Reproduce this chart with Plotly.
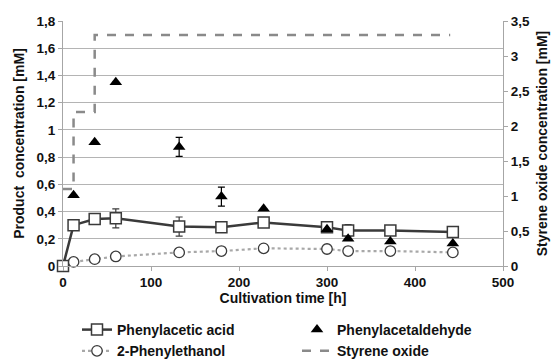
import plotly.graph_objects as go

time_h = [0, 12, 36, 60, 132, 180, 228, 300, 324, 372, 443]
phenylacetic_acid = [0.0, 0.30, 0.345, 0.35, 0.29, 0.285, 0.32, 0.285, 0.26, 0.26, 0.25]
paa_err = [0, 0, 0, 0.07, 0.07, 0, 0, 0, 0.045, 0, 0]
phenylethanol = [0.0, 0.03, 0.05, 0.07, 0.10, 0.11, 0.13, 0.125, 0.11, 0.11, 0.10]
ald_time = [12, 36, 60, 132, 180, 228, 300, 324, 372, 443]
phenylacetaldehyde = [0.52, 0.91, 1.35, 0.875, 0.51, 0.42, 0.27, 0.20, 0.18, 0.165]
ald_err = [0, 0, 0, 0.07, 0.07, 0, 0, 0, 0, 0]
so_time = [0, 12, 36, 440]
styrene_oxide = [1.1, 2.2, 3.3, 3.3]

FONT = "Liberation Sans"
dark = "#3a3a3a"

fig = go.Figure()
fig.add_trace(go.Scatter(
    x=so_time, y=styrene_oxide, yaxis="y2", name="Styrene oxide",
    mode="lines", line=dict(color="#8a8a8a", width=2.5, dash="dash", shape="hv"),
    legend="legend2", legendrank=2))
fig.add_trace(go.Scatter(
    x=time_h, y=phenylethanol, name="2-Phenylethanol", mode="lines+markers",
    line=dict(color="#a8a8a8", width=2.2, dash="dot"),
    marker=dict(symbol="circle", size=10.5, color="white", line=dict(color=dark, width=1.3)),
    cliponaxis=False, legend="legend", legendrank=2))
fig.add_trace(go.Scatter(
    x=time_h, y=phenylacetic_acid, name="Phenylacetic acid", mode="lines+markers",
    line=dict(color=dark, width=2.5),
    marker=dict(symbol="square", size=11, color="white", line=dict(color=dark, width=1.5)),
    error_y=dict(type="data", array=paa_err, color=dark, thickness=1.2, width=3.5),
    cliponaxis=False, legend="legend", legendrank=1))
fig.add_trace(go.Scatter(
    x=ald_time, y=phenylacetaldehyde, name="Phenylacetaldehyde", mode="markers",
    marker=dict(symbol="triangle-up", size=11, color="black"),
    error_y=dict(type="data", array=ald_err, color="black", thickness=1.2, width=3.5),
    cliponaxis=False, legend="legend2", legendrank=1))

tickfont = dict(family=FONT, size=13.5, color="#111111", weight="bold")
titlefont = dict(family=FONT, size=14, color="#111111", weight="bold")
legfont = dict(family=FONT, size=14, color="#111111", weight="bold")
axcol = "#a6a6a6"

fig.update_layout(
    width=556, height=361,
    margin=dict(l=63, r=53, t=21, b=95, autoexpand=False),
    paper_bgcolor="white", plot_bgcolor="white",
    separators=",.",
    showlegend=True,
    xaxis=dict(range=[0, 500], dtick=100, tick0=0, showgrid=False, zeroline=False,
               showline=True, linecolor=axcol, linewidth=1.2, automargin=False,
               ticks="outside", ticklen=4, tickcolor=axcol,
               tickfont=tickfont,
               title=dict(text="Cultivation time [h]", font=titlefont, standoff=1)),
    yaxis=dict(range=[0, 1.8], dtick=0.2, tick0=0, showgrid=True, gridcolor="#b4b4b4",
               gridwidth=1.2, zeroline=False, automargin=False,
               showline=True, linecolor=axcol, linewidth=1.2,
               ticks="outside", ticklen=4, tickcolor=axcol,
               tickfont=tickfont,
               title=dict(text="Product  concentration [mM]", font=titlefont, standoff=8)),
    yaxis2=dict(range=[0, 3.5], dtick=0.5, tick0=0, overlaying="y", side="right",
                showgrid=False, zeroline=False, automargin=False,
                showline=True, linecolor=axcol, linewidth=1.2,
                ticks="outside", ticklen=4, tickcolor=axcol,
                tickfont=tickfont,
                title=dict(text="Styrene oxide concentration [mM]", font=titlefont, standoff=8)),
    legend=dict(x=(77 - 63) / 440, y=(266 - 314) / 245,
                xanchor="left", yanchor="top", orientation="v",
                font=legfont, bgcolor="rgba(0,0,0,0)", tracegroupgap=0, itemwidth=30),
    legend2=dict(x=(297 - 63) / 440, y=(266 - 314) / 245,
                 xanchor="left", yanchor="top", orientation="v",
                 font=legfont, bgcolor="rgba(0,0,0,0)", tracegroupgap=0, itemwidth=30),
)

fig.write_html("out.html")
